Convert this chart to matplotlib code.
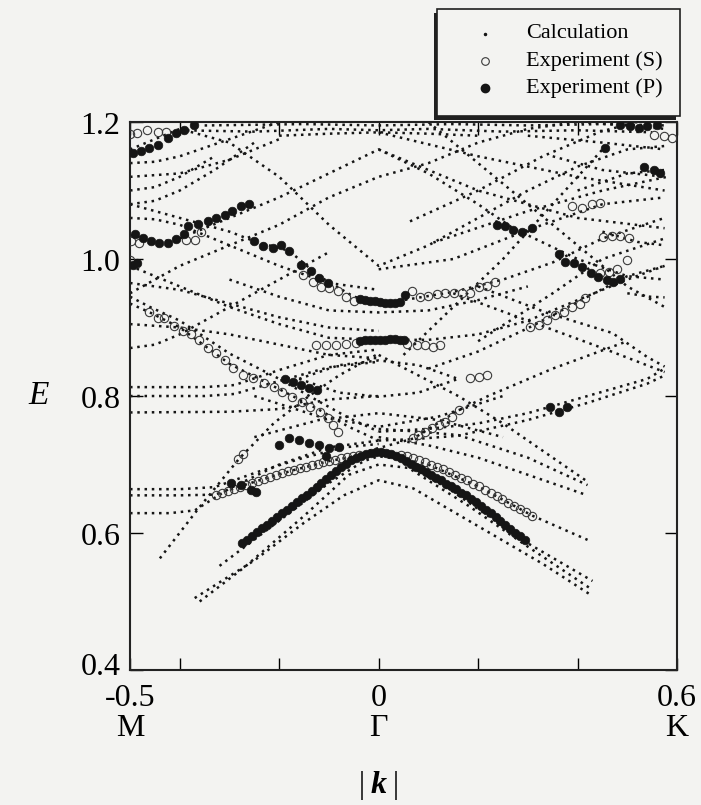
import matplotlib
matplotlib.use("Agg")
import matplotlib.pyplot as plt
import matplotlib.transforms as mtransforms
from matplotlib.patches import Rectangle
from matplotlib.lines import Line2D

# ---- calculated bands: (k nodes, E nodes) ----
calc_low = [
    ([-0.37, -0.25, -0.15, -0.07, 0.0, 0.07, 0.20, 0.33, 0.43], [0.505, 0.560, 0.615, 0.655, 0.677, 0.665, 0.610, 0.555, 0.508]),
    ([-0.36, -0.27, -0.15, -0.06, 0.0, 0.06, 0.18, 0.30, 0.43], [0.500, 0.550, 0.625, 0.685, 0.700, 0.695, 0.640, 0.580, 0.517]),
    ([-0.32, -0.20, -0.10, -0.03, 0.0, 0.04, 0.15, 0.30, 0.43], [0.552, 0.618, 0.673, 0.705, 0.712, 0.708, 0.660, 0.585, 0.530]),
    ([-0.44, -0.36, -0.28, -0.21, -0.14, -0.08, 0.0], [0.563, 0.638, 0.709, 0.761, 0.800, 0.830, 0.862]),
    ([-0.50, -0.42, -0.37, -0.30, -0.20, -0.10, 0.0], [0.629, 0.629, 0.633, 0.665, 0.700, 0.725, 0.735]),
    ([-0.50, -0.40, -0.33, -0.24, -0.17, -0.10, -0.04, 0.0], [0.655, 0.655, 0.656, 0.677, 0.692, 0.705, 0.713, 0.716]),
    ([-0.50, -0.40, -0.33, -0.24, -0.15, -0.07, 0.0], [0.664, 0.664, 0.667, 0.690, 0.710, 0.725, 0.730]),
    ([0.0, 0.10, 0.20, 0.31, 0.42], [0.716, 0.700, 0.668, 0.625, 0.590]),
    ([0.0, 0.10, 0.20, 0.30, 0.42], [0.740, 0.728, 0.710, 0.685, 0.655]),
    ([0.0, 0.08, 0.16, 0.30, 0.42], [0.752, 0.748, 0.743, 0.710, 0.670]),
    ([0.0, 0.08, 0.16, 0.25, 0.35, 0.42], [0.860, 0.830, 0.800, 0.760, 0.710, 0.675]),
]

calc_mid = [
    ([-0.50, -0.35, -0.29, -0.20, -0.10, 0.0], [0.813, 0.813, 0.816, 0.838, 0.860, 0.868]),
    ([-0.50, -0.35, -0.29, -0.20, -0.10, 0.0], [0.800, 0.800, 0.803, 0.822, 0.842, 0.850]),
    ([-0.50, -0.30, -0.20, -0.10, 0.0], [0.776, 0.777, 0.781, 0.795, 0.800]),
    ([-0.50, -0.46, -0.40, -0.30, -0.20, -0.12, -0.06, 0.0], [0.935, 0.922, 0.900, 0.847, 0.810, 0.780, 0.755, 0.735]),
    ([-0.50, -0.46, -0.40, -0.30, -0.20, -0.12, -0.06, 0.0], [0.945, 0.930, 0.910, 0.862, 0.825, 0.792, 0.768, 0.748]),
    ([-0.50, -0.40, -0.30, -0.20, -0.10, 0.0], [0.905, 0.900, 0.890, 0.875, 0.860, 0.855]),
    ([0.0, 0.07, 0.16, 0.30, 0.42, 0.54, 0.575], [0.735, 0.737, 0.742, 0.765, 0.790, 0.818, 0.830]),
    ([0.0, 0.10, 0.20, 0.30, 0.42, 0.54, 0.575], [0.748, 0.752, 0.760, 0.775, 0.800, 0.825, 0.840]),
    ([-0.02, 0.07, 0.16, 0.22, 0.35, 0.50], [0.720, 0.738, 0.779, 0.800, 0.840, 0.880]),
    ([0.20, 0.34, 0.47, 0.54, 0.575], [0.960, 0.921, 0.892, 0.857, 0.843]),
    ([0.15, 0.30, 0.45, 0.575], [0.950, 0.910, 0.870, 0.835]),
    ([0.10, 0.20, 0.30, 0.415, 0.50, 0.575], [0.840, 0.865, 0.899, 0.943, 0.975, 0.990]),
    ([0.20, 0.35, 0.45, 0.575], [0.880, 0.950, 1.000, 1.030]),
    ([-0.16, -0.08, 0.0, 0.08, 0.16], [0.825, 0.845, 0.852, 0.845, 0.825]),
    ([-0.16, -0.08, 0.0, 0.08, 0.16], [0.825, 0.805, 0.799, 0.805, 0.825]),
    ([-0.25, -0.12, 0.0, 0.12, 0.25], [0.740, 0.765, 0.775, 0.765, 0.740]),
    ([-0.25, -0.12, 0.0, 0.12, 0.25], [0.800, 0.770, 0.755, 0.770, 0.800]),
]

calc_high = [
    ([-0.35, -0.15, 0.0, 0.15, 0.30, 0.45, 0.58], [1.195, 1.197, 1.195, 1.197, 1.195, 1.197, 1.195]),
    ([-0.40, -0.25, -0.10, 0.0, 0.10, 0.25, 0.40, 0.55], [1.188, 1.186, 1.190, 1.188, 1.190, 1.186, 1.188, 1.185]),
    ([-0.20, -0.10, 0.0, 0.10, 0.20], [1.180, 1.183, 1.185, 1.183, 1.180]),
    ([-0.50, -0.44, -0.40, -0.30, -0.20, -0.10, 0.0, 0.10, 0.20, 0.27, 0.40, 0.50, 0.575],
     [1.035, 1.025, 1.030, 1.060, 1.090, 1.125, 1.160, 1.125, 1.080, 1.045, 1.000, 0.975, 0.970]),
    ([-0.50, -0.40, -0.30, -0.20, -0.10, 0.0, 0.10, 0.20, 0.30, 0.40, 0.50, 0.575],
     [1.160, 1.190, 1.170, 1.120, 1.050, 0.990, 1.020, 1.060, 1.100, 1.135, 1.160, 1.165]),
    ([-0.50, -0.40, -0.30, -0.25, -0.18, -0.12, -0.05, 0.0, 0.05, 0.15, 0.25, 0.35, 0.45, 0.575],
     [1.080, 1.060, 1.040, 1.026, 1.012, 0.975, 0.945, 0.937, 0.940, 0.952, 0.970, 0.995, 1.030, 1.060]),
    ([-0.30, -0.20, -0.10, 0.0, 0.10, 0.20, 0.30], [0.970, 0.945, 0.925, 0.922, 0.925, 0.940, 0.960]),
    ([-0.50, -0.40, -0.30, -0.20, -0.10, 0.0, 0.10, 0.20, 0.30, 0.40, 0.50, 0.575],
     [0.990, 0.960, 0.930, 0.905, 0.885, 0.882, 0.882, 0.890, 0.910, 0.940, 0.970, 0.990]),
    ([-0.50, -0.40, -0.30, -0.20, -0.10, 0.0, 0.10, 0.20, 0.30, 0.40, 0.50, 0.575],
     [0.950, 0.990, 1.020, 1.050, 1.090, 1.120, 1.140, 1.170, 1.190, 1.200, 1.195, 1.190]),
    ([-0.50, -0.45, -0.40, -0.30, -0.20, -0.10, 0.0], [1.060, 1.058, 1.050, 1.020, 0.990, 0.965, 0.955]),
    ([-0.50, -0.40, -0.30, -0.20, -0.10, 0.0], [0.965, 0.955, 0.935, 0.915, 0.900, 0.895]),
    ([-0.50, -0.45, -0.40, -0.30, -0.20], [1.140, 1.142, 1.150, 1.175, 1.200]),
    ([-0.50, -0.40, -0.30, -0.20], [1.120, 1.125, 1.145, 1.175]),
    ([-0.50, -0.45, -0.40, -0.33], [1.100, 1.105, 1.120, 1.150]),
    ([-0.50, -0.45, -0.40, -0.33, -0.25], [1.080, 1.085, 1.100, 1.130, 1.170]),
    ([-0.50, -0.45, -0.40, -0.30, -0.20, -0.10], [0.870, 0.875, 0.890, 0.930, 0.970, 1.010]),
    ([0.05, 0.15, 0.25, 0.35, 0.45], [0.860, 0.930, 1.000, 1.080, 1.160]),
    ([0.10, 0.20, 0.30, 0.40, 0.50, 0.575], [1.200, 1.140, 1.080, 1.020, 0.960, 0.930]),
    ([0.0, 0.20, 0.40, 0.575], [1.160, 1.100, 1.060, 1.045]),
    ([0.0, 0.20, 0.40, 0.575], [1.185, 1.150, 1.120, 1.100]),
    ([0.063, 0.20, 0.33, 0.446, 0.52], [1.055, 1.100, 1.150, 1.186, 1.200]),
    ([0.11, 0.30, 0.45, 0.58], [1.024, 1.070, 1.100, 1.120]),
    ([0.0, 0.15, 0.31, 0.45, 0.575], [0.985, 1.000, 1.045, 1.080, 1.090]),
    ([0.30, 0.45, 0.575], [1.180, 1.170, 1.160]),
    ([0.40, 0.50, 0.575], [1.100, 1.125, 1.130]),
    ([0.35, 0.45, 0.575], [1.150, 1.130, 1.120]),
    ([0.45, 0.52, 0.575], [1.040, 1.025, 1.020]),
    ([0.50, 0.545, 0.575], [0.950, 0.945, 0.944]),
]

# ---- measured points, S polarisation (open) ----
s_k = [-0.501, -0.485, -0.465, -0.444, -0.427,
       -0.498, -0.481, -0.501,
       -0.387, -0.370, -0.357,
       -0.153, -0.133, -0.116, -0.099, -0.082, -0.066, -0.049,
       0.067, 0.083, 0.100, 0.117, 0.134, 0.151, 0.167, 0.184, 0.201, 0.218, 0.234,
       -0.126, -0.106, -0.086, -0.065, -0.045, 0.057, 0.077, 0.094, 0.110, 0.124,
       -0.461, -0.444, -0.431, -0.411, -0.394, -0.377, -0.361, -0.344, -0.327, -0.310,
       -0.292, -0.272, -0.252, -0.231, -0.211, -0.194, -0.174, -0.154, -0.138, -0.118,
       -0.102, -0.092, -0.081,
       -0.283, -0.272,
       -0.327, -0.315, -0.303, -0.291, -0.279, -0.267, -0.255, -0.243, -0.231, -0.219,
       -0.207, -0.195, -0.183, -0.171, -0.159, -0.147, -0.135, -0.123, -0.111, -0.099,
       -0.087, -0.075, -0.063, -0.051, -0.039,
       0.045, 0.057, 0.069, 0.081, 0.093, 0.105, 0.117, 0.129, 0.141, 0.153, 0.165,
       0.177, 0.189, 0.201, 0.213, 0.225, 0.237, 0.249, 0.261, 0.273, 0.285, 0.297, 0.309,
       0.553, 0.573, 0.590,
       0.389, 0.409, 0.429, 0.446,
       0.452, 0.469, 0.486, 0.503,
       0.446, 0.463, 0.479, 0.499,
       0.305, 0.322, 0.339, 0.355, 0.372, 0.389, 0.405, 0.415,
       0.184, 0.201, 0.218,
       0.161, 0.148, 0.134, 0.121, 0.107, 0.094, 0.080, 0.070]
s_E = [1.182, 1.184, 1.189, 1.186, 1.186,
       1.026, 1.024, 0.999,
       1.028, 1.028, 1.040,
       0.976, 0.966, 0.959, 0.957, 0.954, 0.944, 0.939,
       0.954, 0.944, 0.946, 0.949, 0.951, 0.951, 0.951, 0.951, 0.959, 0.961, 0.966,
       0.874, 0.874, 0.875, 0.876, 0.878, 0.876, 0.874, 0.874, 0.871, 0.874,
       0.922, 0.914, 0.914, 0.902, 0.895, 0.890, 0.882, 0.870, 0.863, 0.853,
       0.841, 0.831, 0.826, 0.819, 0.813, 0.806, 0.799, 0.791, 0.784, 0.777,
       0.768, 0.758, 0.747,
       0.708, 0.716,
       0.655, 0.658, 0.661, 0.664, 0.667, 0.670, 0.673, 0.676, 0.679, 0.682,
       0.685, 0.688, 0.690, 0.692, 0.695, 0.697, 0.699, 0.701, 0.703, 0.705,
       0.707, 0.709, 0.711, 0.712, 0.714,
       0.714, 0.712, 0.709, 0.706, 0.703, 0.700, 0.697, 0.693, 0.689, 0.685, 0.681,
       0.677, 0.672, 0.668, 0.663, 0.658, 0.654, 0.649, 0.644, 0.639, 0.635, 0.630, 0.625,
       1.181, 1.179, 1.176,
       1.077, 1.075, 1.080, 1.082,
       1.032, 1.034, 1.034, 1.031,
       0.979, 0.981, 0.986, 0.998,
       0.901, 0.904, 0.911, 0.918, 0.923, 0.930, 0.935, 0.943,
       0.826, 0.828, 0.831,
       0.779, 0.770, 0.762, 0.757, 0.753, 0.748, 0.743, 0.738]

# ---- measured points, P polarisation (filled) ----
p_k = [-0.495, -0.478, -0.461, -0.444, -0.424, -0.407, -0.391, -0.371,
       -0.491, -0.474, -0.457, -0.441, -0.424, -0.407, -0.391,
       -0.384, -0.364, -0.344, -0.327, -0.310, -0.294, -0.277, -0.260,
       -0.495, -0.485,
       -0.250, -0.233, -0.213, -0.196, -0.180,
       -0.156, -0.136, -0.119, -0.102,
       -0.038, -0.028, -0.018, -0.008, 0.002, 0.012, 0.022, 0.032, 0.042, 0.053,
       -0.037, -0.027, -0.017, -0.007, 0.003, 0.013, 0.023, 0.033, 0.043, 0.050,
       -0.188, -0.172, -0.156, -0.140, -0.124,
       -0.200, -0.180, -0.160, -0.140, -0.120, -0.099, -0.079, -0.105,
       -0.296, -0.276, -0.256, -0.246,
       0.486, 0.506, 0.523, 0.540, 0.560,
       0.456,
       0.533, 0.553, 0.566,
       0.238, 0.255, 0.271, 0.288, 0.308,
       0.362, 0.375, 0.392, 0.409, 0.426, 0.442, 0.459, 0.472, 0.486,
       0.345, 0.362, 0.378,
       -0.275, -0.265, -0.255, -0.245, -0.235, -0.225, -0.215, -0.205, -0.195, -0.185,
       -0.175, -0.165, -0.155, -0.145, -0.135, -0.125, -0.115, -0.105, -0.095, -0.085,
       -0.075, -0.065, -0.055, -0.045, -0.035, -0.025, -0.015, -0.005, 0.005, 0.015,
       0.025, 0.035, 0.045, 0.055, 0.065, 0.075, 0.085, 0.095, 0.105, 0.115,
       0.125, 0.135, 0.145, 0.155, 0.165, 0.175, 0.185, 0.195, 0.205, 0.215,
       0.225, 0.235, 0.245, 0.255, 0.265, 0.275, 0.285, 0.295]
p_E = [1.155, 1.158, 1.162, 1.166, 1.177, 1.184, 1.189, 1.196,
       1.036, 1.031, 1.027, 1.024, 1.024, 1.029, 1.036,
       1.048, 1.051, 1.055, 1.060, 1.064, 1.070, 1.077, 1.081,
       0.992, 0.994,
       1.026, 1.019, 1.016, 1.021, 1.011,
       0.991, 0.982, 0.973, 0.965,
       0.941, 0.940, 0.939, 0.938, 0.937, 0.936, 0.936, 0.936, 0.937, 0.948,
       0.881, 0.882, 0.882, 0.882, 0.882, 0.882, 0.883, 0.883, 0.882, 0.882,
       0.825, 0.820, 0.816, 0.812, 0.809,
       0.728, 0.739, 0.736, 0.731, 0.728, 0.724, 0.725, 0.712,
       0.673, 0.670, 0.663, 0.660,
       1.196, 1.194, 1.191, 1.194, 1.196,
       1.162,
       1.135, 1.130, 1.125,
       1.050, 1.048, 1.043, 1.040, 1.045,
       1.008, 0.996, 0.994, 0.989, 0.979, 0.974, 0.969, 0.967, 0.971,
       0.784, 0.777, 0.784,
       0.585, 0.590, 0.596, 0.601, 0.607, 0.612, 0.618, 0.624, 0.629, 0.634,
       0.640, 0.645, 0.651, 0.656, 0.662, 0.667, 0.673, 0.679, 0.685, 0.690,
       0.696, 0.701, 0.706, 0.710, 0.713, 0.715, 0.717, 0.718, 0.718, 0.717,
       0.715, 0.712, 0.709, 0.705, 0.701, 0.697, 0.693, 0.689, 0.685, 0.681,
       0.677, 0.672, 0.668, 0.664, 0.659, 0.655, 0.650, 0.645, 0.640, 0.634,
       0.629, 0.623, 0.618, 0.612, 0.606, 0.600, 0.595, 0.590]

x_ticks = [-0.5, -0.4, -0.2, 0.0, 0.2, 0.4, 0.6]
x_labels = ["-0.5\nM", "", "", "0\n\u0393", "", "", "0.6\nK"]
y_ticks = [0.4, 0.6, 0.8, 1.0, 1.2]
y_labels = ["0.4", "0.6", "0.8", "1.0", "1.2"]

plt.rcParams["font.family"] = ["Liberation Serif", "DejaVu Serif"]
paper = "#f3f3f1"
ink = "#151515"

fig = plt.figure(figsize=(7.01, 8.05), dpi=100, facecolor=paper)
ax = fig.add_axes([0.1855, 0.1677, 0.7803, 0.6807], facecolor=paper)

dot_style = dict(color=ink, lw=1.8, linestyle=(0, (1, 1.9)), dash_capstyle="butt", zorder=2)
for group in (calc_low, calc_mid, calc_high):
    for k, e in group:
        ax.plot(k, e, **dot_style)

ax.plot(s_k, s_E, "o", ms=6.0, mfc="none", mec="#3a3a3a", mew=0.8, zorder=3)
ax.plot(p_k, p_E, "o", ms=6.2, mfc=ink, mec=ink, mew=0.5, zorder=4)

ax.set_xlim(-0.5, 0.6)
ax.set_ylim(0.4, 1.2)
ax.set_xticks(x_ticks)
ax.set_xticklabels(x_labels, fontsize=23, linespacing=1.05)
ax.set_yticks(y_ticks)
ax.set_yticklabels(y_labels, fontsize=23, va="center")
ax.tick_params(direction="in", length=9, width=1.0, top=True, right=True)
ax.tick_params(axis="x", pad=10)
ax.tick_params(axis="y", pad=7)
# the upper labels sit a little below their ticks; the bottom one stays clear of -0.5
shift = mtransforms.ScaledTranslation(0, -4 / 100, fig.dpi_scale_trans)
for lab in ax.get_yticklabels()[1:]:
    lab.set_transform(lab.get_transform() + shift)
lift = mtransforms.ScaledTranslation(0, 3 / 100, fig.dpi_scale_trans)
first = ax.get_yticklabels()[0]
first.set_transform(first.get_transform() + lift)
for s in ax.spines.values():
    s.set_linewidth(1.5)
    s.set_color("#222222")

ax.set_ylabel("E", fontsize=24, style="italic", rotation=0, labelpad=30, va="center")

# axis title |k| with a bold italic k
fig.text(0.516, 0.006, "|", fontsize=22, ha="center", va="bottom")
fig.text(0.540, 0.006, "k", fontsize=23, ha="center", va="bottom", style="italic", weight="bold")
fig.text(0.564, 0.006, "|", fontsize=22, ha="center", va="bottom")

# legend box with a drop shadow
lx0, ly0, lw_, lh_ = 0.624, 0.856, 0.346, 0.133
fig.patches.append(Rectangle((lx0 - 0.005, ly0 - 0.005), lw_, lh_, transform=fig.transFigure,
                             facecolor="#202020", edgecolor="none", zorder=5))
fig.patches.append(Rectangle((lx0, ly0), lw_, lh_, transform=fig.transFigure,
                             facecolor=paper, edgecolor="#202020", lw=1.2, zorder=6))
leg_items = [
    ("Calculation", dict(marker=".", ms=3, mfc=ink, mec=ink)),
    ("Experiment (S)", dict(marker="o", ms=5.5, mfc="none", mec="#3a3a3a", mew=0.8)),
    ("Experiment (P)", dict(marker="o", ms=6, mfc=ink, mec=ink)),
]
for i, (label, mk) in enumerate(leg_items):
    yy = 0.958 - i * 0.0335
    fig.lines.append(Line2D([0.692], [yy], transform=fig.transFigure, linestyle="none", zorder=7, **mk))
    fig.text(0.750, yy, label, fontsize=16, va="center", ha="left", zorder=7)

fig.savefig("out.png", dpi=100, facecolor=paper)
